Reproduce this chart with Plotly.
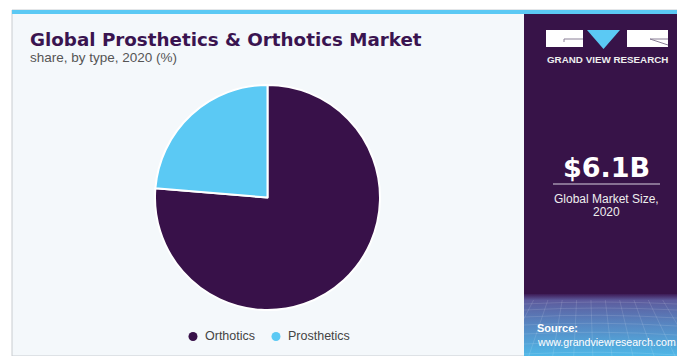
import base64
import plotly.graph_objects as go

# Market share by product type, 2020 (%)
segments = ["Orthotics", "Prosthetics"]
shares = [76.3, 23.7]
segment_colors = ["#381149", "#5BC9F4"]

market_size = "$6.1B"
market_caption = ["Global Market Size,", "2020"]

W, H = 677, 356


def px(x):
    return x / W


def py(y):
    return 1 - y / H


fig = go.Figure()

fig.add_trace(go.Pie(
    labels=segments,
    values=shares,
    marker=dict(colors=segment_colors, line=dict(color="#ffffff", width=2)),
    sort=False,
    direction="clockwise",
    rotation=0,
    textinfo="none",
    hoverinfo="label+percent",
    showlegend=False,
    domain=dict(x=[px(155), px(380)], y=[py(310), py(85)]),
))

# gradient footer of the side panel
footer_svg = """<svg xmlns='http://www.w3.org/2000/svg' width='160' height='62' viewBox='0 0 160 62' preserveAspectRatio='none'>
<defs><linearGradient id='g' x1='0' y1='0' x2='0' y2='1'>
<stop offset='0' stop-color='#3d1a55'/>
<stop offset='0.1' stop-color='#5d5a9c'/>
<stop offset='0.45' stop-color='#5882be'/>
<stop offset='1' stop-color='#4fb8e8'/>
</linearGradient></defs>
<rect width='160' height='62' fill='url(#g)'/>
<g stroke='#ffffff' stroke-opacity='0.18' stroke-width='0.7' fill='none'>
<path d='M0 10 Q80 6 160 10'/><path d='M0 16 Q80 12 160 16'/><path d='M0 23 Q80 19 160 24'/>
<path d='M0 31 Q80 27 160 32'/><path d='M0 40 Q80 36 160 41'/><path d='M0 50 Q80 46 160 51'/>
<path d='M0 60 Q80 56 160 61'/>
<path d='M10 6 L-20 62'/><path d='M25 6 L5 62'/><path d='M40 6 L30 62'/><path d='M55 6 L52 62'/>
<path d='M70 6 L72 62'/><path d='M85 6 L92 62'/><path d='M100 6 L114 62'/><path d='M115 6 L136 62'/>
<path d='M130 6 L158 62'/><path d='M145 6 L180 62'/>
</g></svg>"""
footer_uri = "data:image/svg+xml;base64," + base64.b64encode(footer_svg.encode()).decode()

shapes = [
    # card background
    dict(type="rect", xref="paper", yref="paper", x0=px(12), x1=1, y0=py(356), y1=py(10),
         fillcolor="#F4F8FB", line=dict(color="#C8CCD0", width=1), layer="below"),
    # accent strip along the top
    dict(type="rect", xref="paper", yref="paper", x0=px(12), x1=1, y0=py(14), y1=py(10),
         fillcolor="#5BC9F4", line=dict(width=0), layer="below"),
    # side panel
    dict(type="rect", xref="paper", yref="paper", x0=px(524), x1=1, y0=py(356), y1=py(14),
         fillcolor="#371348", line=dict(width=0), layer="below"),
    # logo blocks
    dict(type="rect", xref="paper", yref="paper", x0=px(546), x1=px(583), y0=py(47), y1=py(30),
         fillcolor="#ffffff", line=dict(width=0)),
    dict(type="path", xref="paper", yref="paper",
         path=f"M {px(587)} {py(30)} L {px(620)} {py(30)} L {px(603.5)} {py(49)} Z",
         fillcolor="#5BC9F4", line=dict(width=0)),
    dict(type="rect", xref="paper", yref="paper", x0=px(627), x1=px(668), y0=py(47), y1=py(30),
         fillcolor="#ffffff", line=dict(width=0)),
    dict(type="path", xref="paper", yref="paper",
         path=f"M {px(564)} {py(42)} L {px(564)} {py(39)} L {px(583)} {py(39)}",
         line=dict(color="#8a7f96", width=1)),
    dict(type="path", xref="paper", yref="paper",
         path=f"M {px(668)} {py(39)} L {px(650)} {py(39)} L {px(668)} {py(45)}",
         line=dict(color="#8a7f96", width=1)),
    # divider under the headline figure
    dict(type="line", xref="paper", yref="paper", x0=px(553), x1=px(660), y0=py(184), y1=py(184),
         line=dict(color="#d8d0de", width=1)),
]

images = [dict(source=footer_uri, xref="paper", yref="paper", x=px(524), y=py(294),
               sizex=px(677) - px(524), sizey=py(294) - py(356),
               xanchor="left", yanchor="top", sizing="stretch", layer="above")]

font = "Liberation Sans, Arial, sans-serif"
heavy = "DejaVu Sans, sans-serif"


def label(text, x, y, size, color, bold=False, xanchor="left", family=font):
    return dict(text=f"<b>{text}</b>" if bold else text, x=px(x), y=py(y),
                xref="paper", yref="paper", xanchor=xanchor, yanchor="middle",
                showarrow=False, font=dict(family=family, size=size, color=color))


annotations = [
    label("Global Prosthetics &amp; Orthotics Market", 28, 39, 18.3, "#3A1450", bold=True, family=heavy),
    label("share, by type, 2020 (%)", 28, 57, 13.5, "#555555"),
    label("GRAND VIEW RESEARCH", 607, 60, 9.8, "#eeeeee", bold=True, xanchor="center"),
    label(market_size, 606, 167, 27, "#ffffff", bold=True, xanchor="center", family=heavy),
    label(market_caption[0], 606, 199, 12, "#eeeeee", xanchor="center"),
    label(market_caption[1], 606, 212, 12, "#eeeeee", xanchor="center"),
    label("Source:", 535, 328, 11, "#ffffff", bold=True),
    label("www.grandviewresearch.com", 535, 342, 10.6, "#ffffff"),
]

# legend row: coloured dot followed by the segment name
legend_x = [193, 276]
for name, col, lx in zip(segments, segment_colors, legend_x):
    shapes.append(dict(type="circle", xref="paper", yref="paper",
                       x0=px(lx - 4.5), x1=px(lx + 4.5), y0=py(341), y1=py(332),
                       fillcolor=col, line=dict(width=0)))
    annotations.append(label(name, lx + 10, 336, 12.5, "#444444"))

fig.update_layout(
    width=W, height=H, autosize=False,
    margin=dict(l=0, r=0, t=0, b=0),
    paper_bgcolor="#ffffff", plot_bgcolor="rgba(0,0,0,0)",
    shapes=shapes, images=images, annotations=annotations,
    showlegend=False,
)

fig.write_html("out.html")
